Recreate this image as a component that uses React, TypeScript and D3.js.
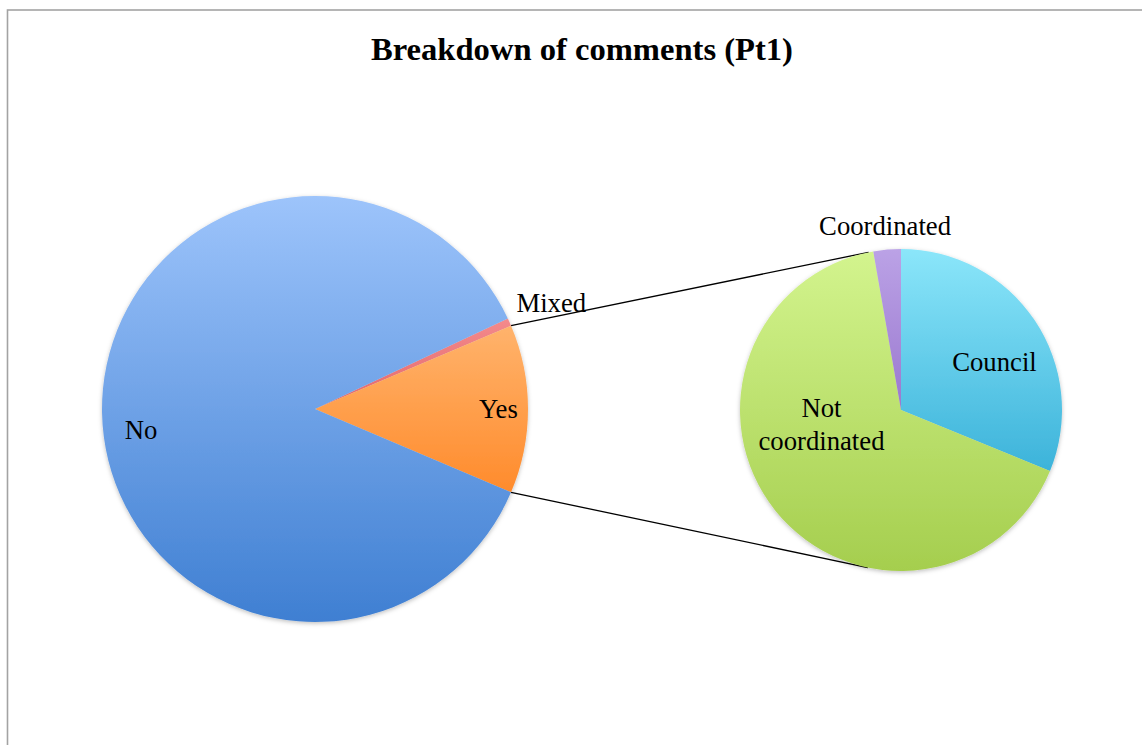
import React, { useRef, useEffect } from "react";
import * as d3 from "d3";

// main pie
const mainLabels = ["Mixed", "Yes", "No"];
const mainValues = [5, 109, 738];
// breakdown of "Yes"
const subLabels = ["Council", "Not coordinated", "Coordinated"];
const subValues = [34, 72, 3];

const title = "Breakdown of comments (Pt1)";

const W = 1142;
const H = 745;

const palette: Record<string, [string, string]> = {
  No: ["#9dc4fb", "#3f7fd2"],
  Mixed: ["#f48a8c", "#e2676b"],
  Yes: ["#ffb36c", "#ff8b2c"],
  Council: ["#8be6fa", "#3cb3da"],
  "Not coordinated": ["#d3f48e", "#a5ce4e"],
  Coordinated: ["#bba2e6", "#9a78cf"],
};

// label placement: angle (deg, clockwise from 12 o'clock) and radius factor
const labelPos: Record<string, { angle?: number; k: number }> = {
  No: { angle: 263.1, k: 0.823 },
  Yes: { k: 0.861 },
  Mixed: { k: 1.215 },
  Council: { angle: 62.6, k: 0.654 },
  "Not coordinated": { angle: 259.7, k: 0.502 },
  Coordinated: { k: 1.148 },
};

type Slice = d3.PieArcDatum<number> & { name: string };

const App: React.FC = () => {
  const svgRef = useRef<SVGSVGElement | null>(null);

  useEffect(() => {
    if (!svgRef.current) return;
    const svg = d3.select(svgRef.current);
    svg.selectAll("*").remove();

    const font = "'Liberation Serif', 'Times New Roman', serif";
    const main = { cx: 315, cy: 409, r: 213 };
    const sub = { cx: 901, cy: 410, r: 161 };

    const defs = svg.append("defs");
    Object.entries(palette).forEach(([name, [c0, c1]], i) => {
      const g = defs
        .append("linearGradient")
        .attr("id", `grad${i}`)
        .attr("x1", 0)
        .attr("y1", 0)
        .attr("x2", 0)
        .attr("y2", 1);
      g.append("stop").attr("offset", "0%").attr("stop-color", c0);
      g.append("stop").attr("offset", "100%").attr("stop-color", c1);
    });
    const gradId = (name: string) =>
      `url(#grad${Object.keys(palette).indexOf(name)})`;

    defs
      .append("filter")
      .attr("id", "shadow")
      .attr("x", "-10%")
      .attr("y", "-10%")
      .attr("width", "120%")
      .attr("height", "120%")
      .append("feDropShadow")
      .attr("dx", 0)
      .attr("dy", 1.5)
      .attr("stdDeviation", 2)
      .attr("flood-color", "#000")
      .attr("flood-opacity", 0.25);

    // chart frame
    svg
      .append("rect")
      .attr("x", 7.5)
      .attr("y", 10)
      .attr("width", W + 20)
      .attr("height", H + 20)
      .attr("fill", "#fff")
      .attr("stroke", "#a3a3a3")
      .attr("stroke-width", 1.6);

    svg
      .append("text")
      .attr("x", 582)
      .attr("y", 59.5)
      .attr("text-anchor", "middle")
      .attr("font-family", font)
      .attr("font-weight", "bold")
      .attr("font-size", 32.6)
      .attr("fill", "#000")
      .text(title);

    // main pie: "Yes" centred on 3 o'clock, "Mixed" just above it
    const total = d3.sum(mainValues);
    const yesA = (mainValues[1] / total) * 2 * Math.PI;
    const mixA = (mainValues[0] / total) * 2 * Math.PI;
    const start = Math.PI / 2 - yesA / 2 - mixA;

    const mainPie = d3
      .pie<number>()
      .sort(null)
      .startAngle(start)
      .endAngle(start + 2 * Math.PI);
    const mainArcs: Slice[] = mainPie(mainValues).map((d, i) => ({
      ...d,
      name: mainLabels[i],
    }));

    const subPie = d3.pie<number>().sort(null).startAngle(0).endAngle(2 * Math.PI);
    const subArcs: Slice[] = subPie(subValues).map((d, i) => ({
      ...d,
      name: subLabels[i],
    }));

    const drawPie = (
      arcs: Slice[],
      c: { cx: number; cy: number; r: number }
    ) => {
      const arc = d3.arc<Slice>().innerRadius(0).outerRadius(c.r);
      const g = svg
        .append("g")
        .attr("transform", `translate(${c.cx},${c.cy})`);
      g.append("g")
        .attr("filter", "url(#shadow)")
        .selectAll("path")
        .data(arcs)
        .enter()
        .append("path")
        .attr("d", arc)
        .attr("fill", (d) => gradId(d.name));

      arcs.forEach((d) => {
        const p = labelPos[d.name];
        const a =
          p.angle !== undefined
            ? (p.angle * Math.PI) / 180
            : (d.startAngle + d.endAngle) / 2;
        const x = Math.sin(a) * c.r * p.k;
        const y = -Math.cos(a) * c.r * p.k;
        const words = d.name === "Not coordinated" ? ["Not", "coordinated"] : [d.name];
        const t = g
          .append("text")
          .attr("text-anchor", "middle")
          .attr("font-family", font)
          .attr("font-size", 26.7)
          .attr("fill", "#000");
        words.forEach((w, i) => {
          t.append("tspan")
            .attr("x", x)
            .attr("y", y + (i - (words.length - 1) / 2) * 33)
            .attr("dy", "0.34em")
            .text(w);
        });
      });
    };

    // connector lines: tangent from "Yes" outer corners to the breakdown pie
    const yes = mainArcs[1];
    const corner = (a: number): [number, number] => [
      main.cx + Math.sin(a) * main.r,
      main.cy - Math.cos(a) * main.r,
    ];
    const tangent = (p: [number, number], upper: boolean): [number, number] => {
      const dx = p[0] - sub.cx;
      const dy = p[1] - sub.cy;
      const d = Math.hypot(dx, dy);
      const th = Math.atan2(dy, dx);
      const off = Math.acos(sub.r / d);
      const pts = [th + off, th - off].map(
        (t) => [sub.cx + Math.cos(t) * sub.r, sub.cy + Math.sin(t) * sub.r] as [number, number]
      );
      pts.sort((a, b) => a[1] - b[1]);
      return upper ? pts[0] : pts[1];
    };
    const p1 = corner(yes.startAngle);
    const p2 = corner(yes.endAngle);
    const line = d3.line();
    svg
      .append("path")
      .attr("d", line([p1, tangent(p1, true)]))
      .attr("stroke", "#000")
      .attr("stroke-width", 1.3)
      .attr("fill", "none");
    svg
      .append("path")
      .attr("d", line([p2, tangent(p2, false)]))
      .attr("stroke", "#000")
      .attr("stroke-width", 1.3)
      .attr("fill", "none");

    drawPie(mainArcs, main);
    drawPie(subArcs, sub);
  }, []);

  return (
    <svg
      ref={svgRef}
      width={W}
      height={H}
      style={{ position: "absolute", left: 0, top: 0, display: "block" }}
    ></svg>
  );
};

export default App;
